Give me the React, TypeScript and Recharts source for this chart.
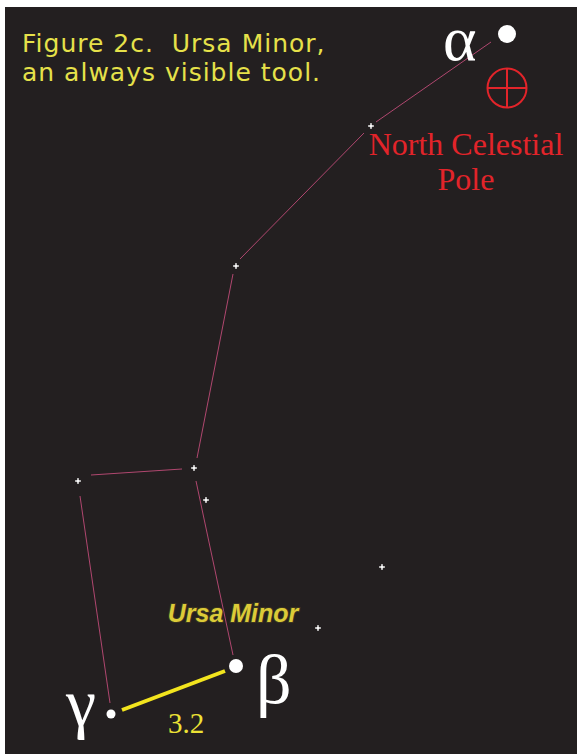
import { ComposedChart, XAxis, YAxis, Scatter, ReferenceLine, ReferenceArea } from 'recharts';

// Positions on the figure, in figure units (x right, y down)
const majorStars = [
  { name: 'Polaris', x: 507, y: 34, r: 9 },
  { name: 'Kochab', x: 236, y: 666, r: 7 },
  { name: 'Pherkad', x: 111, y: 714, r: 4.5 },
];

const minorStars = [
  { name: 'Yildun', x: 371, y: 126 },
  { name: 'Epsilon', x: 236, y: 266 },
  { name: 'Zeta', x: 194, y: 468 },
  { name: 'Eta', x: 78, y: 481 },
  { name: 'Theta', x: 206, y: 500 },
  { name: 'field1', x: 382, y: 567 },
  { name: 'field2', x: 318, y: 628 },
];

const pole = [{ x: 507, y: 88 }];

// asterism lines, trimmed short of the stars
const stickFigure = [
  [{ x: 491, y: 42 }, { x: 376, y: 122 }],
  [{ x: 364, y: 133 }, { x: 240, y: 259 }],
  [{ x: 233, y: 274 }, { x: 197, y: 458 }],
  [{ x: 182, y: 469 }, { x: 91, y: 475 }],
  [{ x: 196, y: 481 }, { x: 233, y: 655 }],
  [{ x: 80, y: 496 }, { x: 110, y: 703 }],
];

const pointerLine = [{ x: 122, y: 710 }, { x: 225, y: 671 }];

const labels = [
  { x: 22, y: 52, text: 'Figure 2c.  Ursa Minor,', kind: 'title' },
  { x: 22, y: 81, text: 'an always visible tool.', kind: 'title' },
  { x: 443, y: 60, text: 'α', kind: 'greek', size: 64 },
  { x: 466, y: 155, text: 'North Celestial', kind: 'pole' },
  { x: 466, y: 190, text: 'Pole', kind: 'pole' },
  { x: 233, y: 622, text: 'Ursa Minor', kind: 'name' },
  { x: 256, y: 703, text: 'β', kind: 'greek', size: 70 },
  { x: 66, y: 726, text: 'γ', kind: 'greek', size: 68 },
  { x: 186, y: 733, text: '3.2', kind: 'dist' },
];

const W = 577;
const H = 755;

const StarDot = (props: any) => {
  const { cx, cy, payload } = props;
  return <circle cx={cx} cy={cy} r={payload.r} fill="#ffffff" />;
};

const StarCross = (props: any) => {
  const { cx, cy } = props;
  return (
    <g>
      <circle cx={cx} cy={cy} r={1.5} fill="#ffffff" />
      <line x1={cx - 3} y1={cy} x2={cx + 3} y2={cy} stroke="#f4f4f4" strokeWidth={1.3} />
      <line x1={cx} y1={cy - 3} x2={cx} y2={cy + 3} stroke="#f4f4f4" strokeWidth={1.3} />
    </g>
  );
};

const PoleMark = (props: any) => {
  const { cx, cy } = props;
  return (
    <g stroke="#e2242a" strokeWidth={2} fill="none">
      <circle cx={cx} cy={cy} r={19.5} />
      <line x1={cx - 19.5} y1={cy} x2={cx + 19.5} y2={cy} />
      <line x1={cx} y1={cy - 19.5} x2={cx} y2={cy + 19.5} />
    </g>
  );
};

const Label = (props: any) => {
  const { cx, cy, payload } = props;
  if (payload.kind === 'title') {
    return (
      <text x={cx} y={cy} fill="#e6e14a" fontFamily="DejaVu Sans" fontSize={25} letterSpacing={1}
        style={{ whiteSpace: 'pre' }}>
        {payload.text}
      </text>
    );
  }
  if (payload.kind === 'greek') {
    return (
      <text x={cx} y={cy} fill="#ffffff" fontFamily="Liberation Serif" fontSize={payload.size}>
        {payload.text}
      </text>
    );
  }
  if (payload.kind === 'pole') {
    return (
      <text x={cx} y={cy} fill="#e2242a" fontFamily="Liberation Serif" fontSize={32} textAnchor="middle">
        {payload.text}
      </text>
    );
  }
  if (payload.kind === 'name') {
    return (
      <text x={cx} y={cy} fill="#dccb38" fontFamily="Liberation Sans" fontSize={25} fontWeight="bold" fontStyle="italic"
        textAnchor="middle" stroke="#3a3420" strokeWidth={2} paintOrder="stroke">
        {payload.text}
      </text>
    );
  }
  return (
    <text x={cx} y={cy} fill="#ece235" fontFamily="Liberation Serif" fontSize={29} textAnchor="middle">
      {payload.text}
    </text>
  );
};

export default function App() {
  return (
    <div style={{ position: 'absolute', left: 0, top: 0, width: W, height: H, background: '#fff' }}>
      <ComposedChart width={W} height={H} margin={{ top: 0, right: 0, bottom: 0, left: 0 }}>
        <XAxis type="number" dataKey="x" domain={[0, W]} hide />
        <YAxis type="number" dataKey="y" domain={[0, H]} reversed hide />
        <ReferenceArea x1={5} x2={W} y1={7} y2={754} fill="#231f20" fillOpacity={1} stroke="none" />
        {stickFigure.map((seg, i) => (
          <ReferenceLine key={i} segment={seg} stroke="#b0476f" strokeWidth={1} ifOverflow="visible" />
        ))}
        <ReferenceLine segment={pointerLine} stroke="#f2e41e" strokeWidth={4} ifOverflow="visible" />
        <Scatter data={minorStars} shape={StarCross} isAnimationActive={false} />
        <Scatter data={majorStars} shape={StarDot} isAnimationActive={false} />
        <Scatter data={pole} shape={PoleMark} isAnimationActive={false} />
        <Scatter data={labels} shape={Label} isAnimationActive={false} />
      </ComposedChart>
    </div>
  );
}
